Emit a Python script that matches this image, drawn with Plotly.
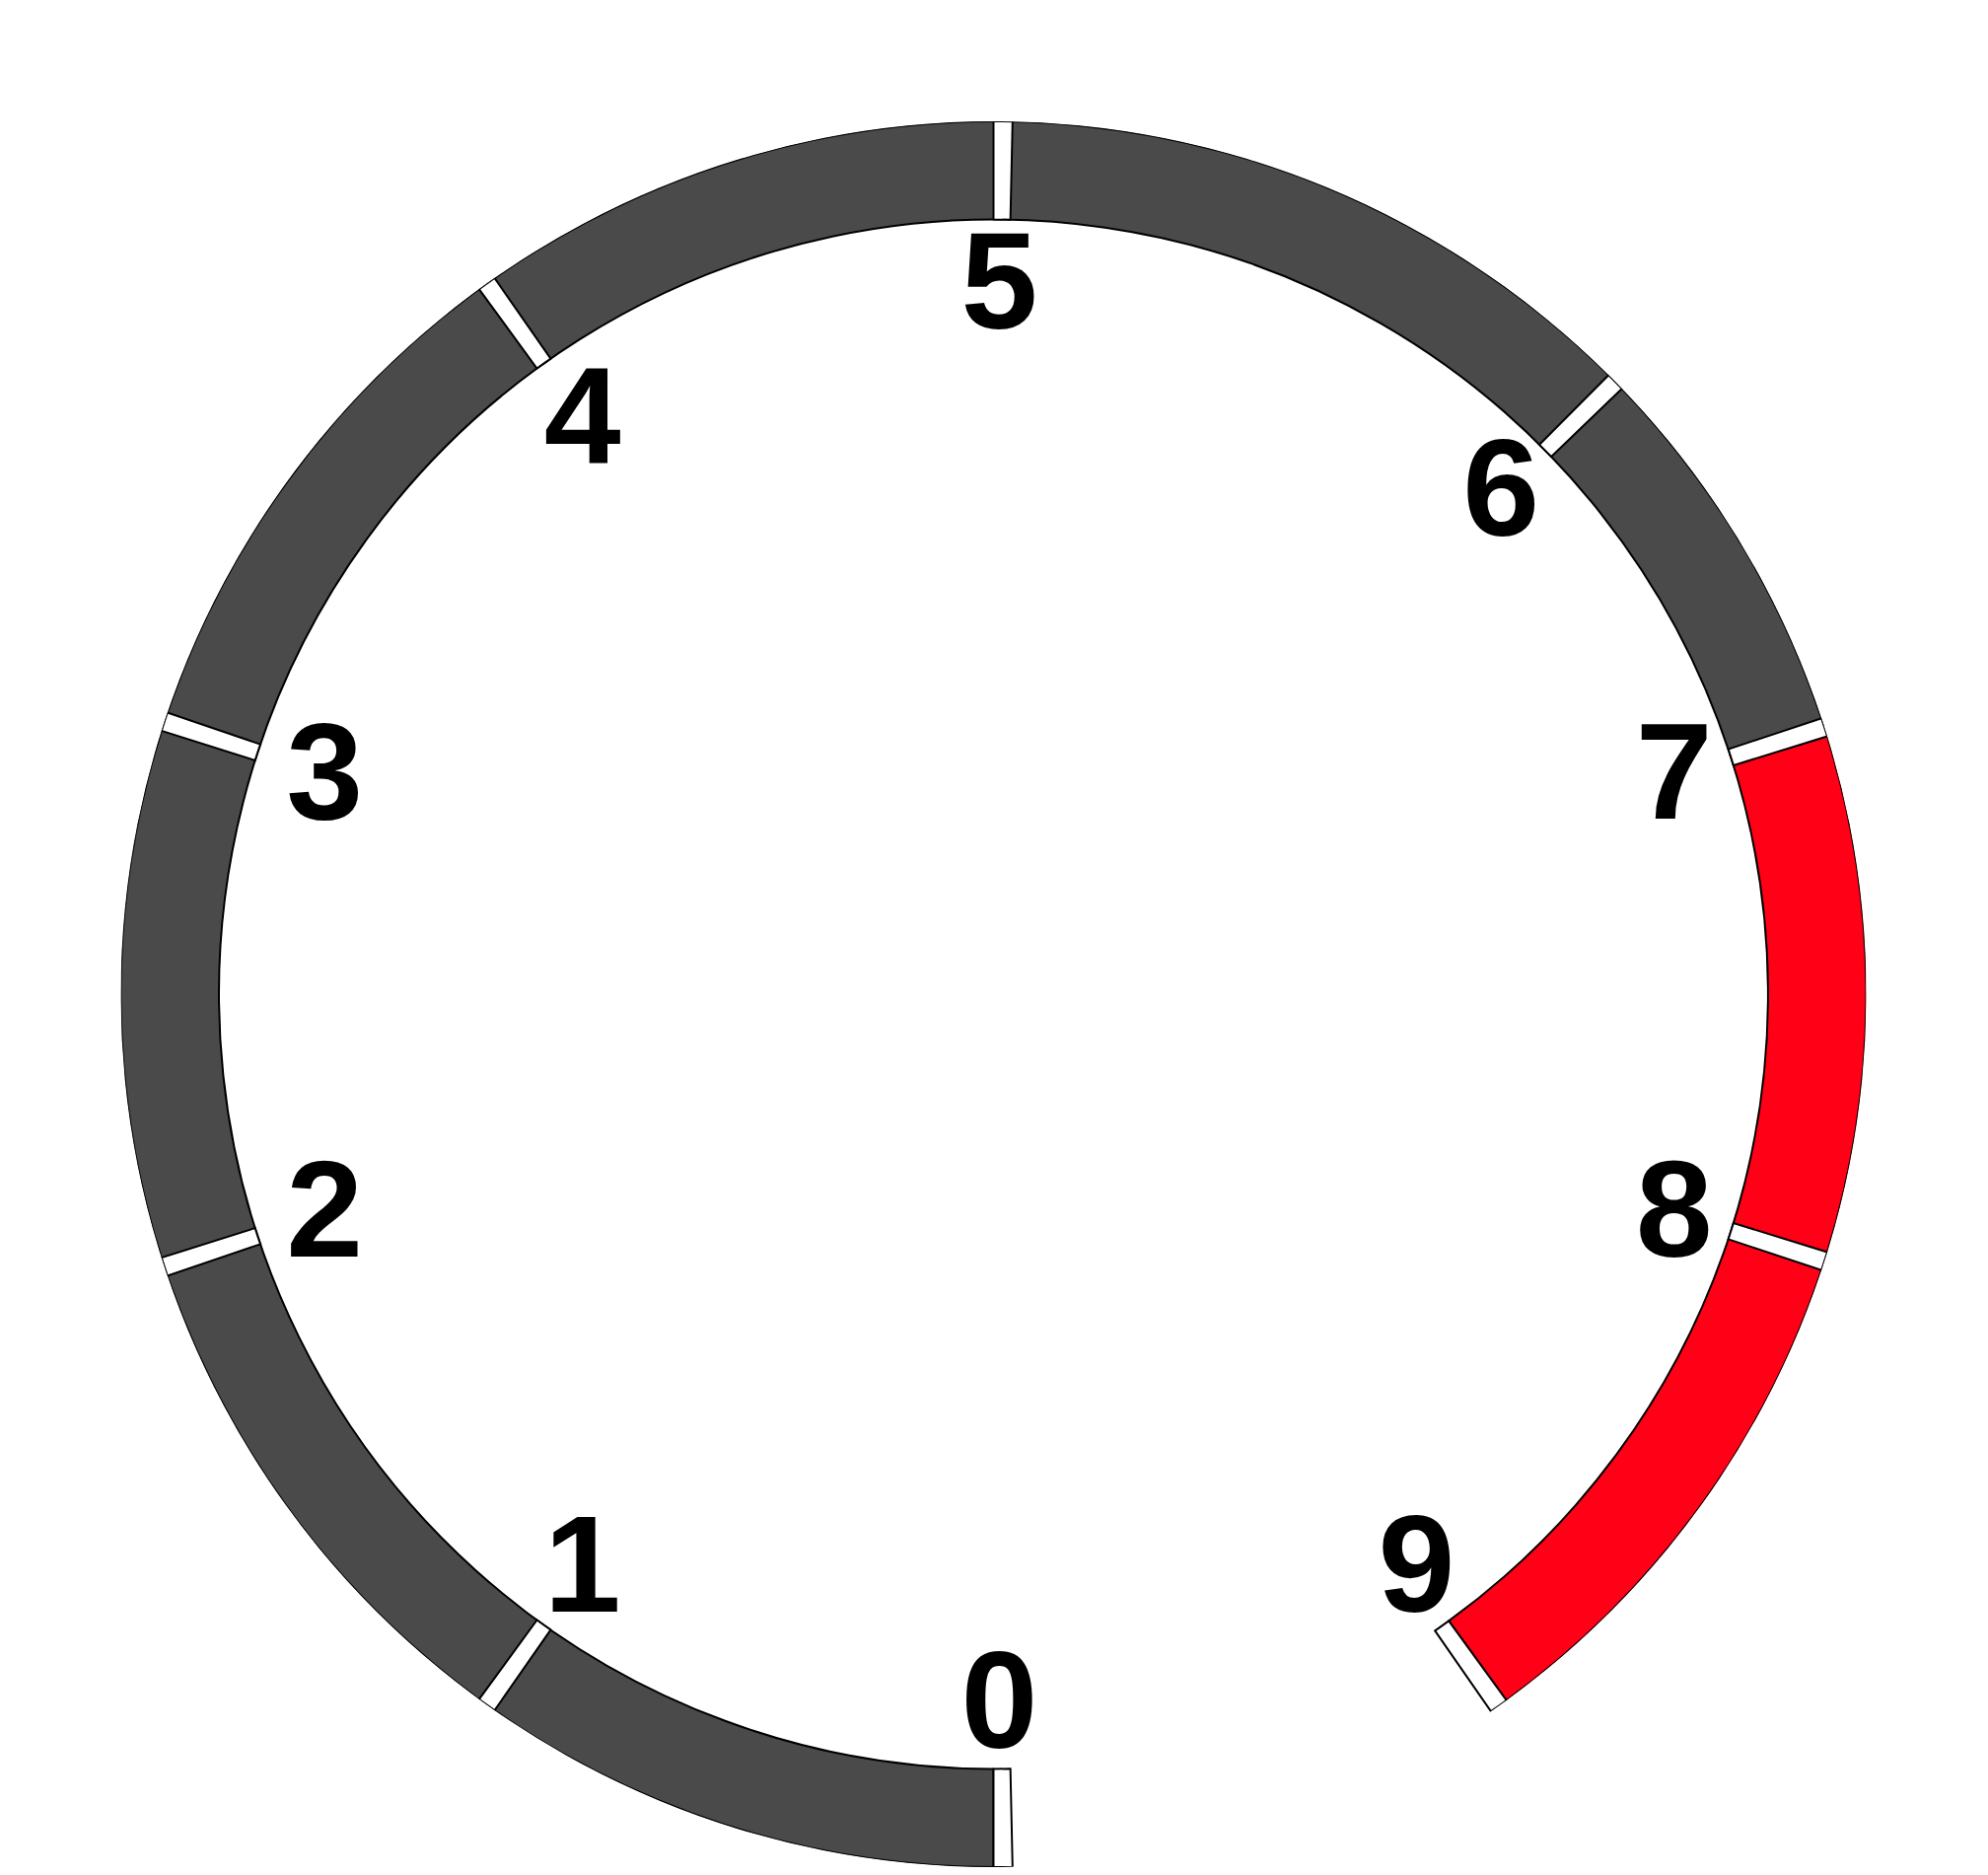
import math
import plotly.graph_objects as go

# ---- data ----
tick_labels = ["0", "1", "2", "3", "4", "5", "6", "7", "8", "9"]
tick_positions = [0, 1, 2, 3, 4, 5, 6.25, 7, 8, 9]   # position along the dial (units of 36 deg)
band_from = [0, 7]
band_to = [7, 9]
band_colors = ["#4a4a4a", "#ff0016"]

# ---- geometry / style constants ----
DEG_PER_UNIT = 36.0
R_MAX = 100.0
R_INNER = 88.75
R_LABEL = 81.3
SEP_WIDTH = 1.25
LABEL_DX = 6.0   # px screen shift of labels to the right
LABEL_DY = 9.0   # px screen shift of labels downward

W, H = 2016, 1901
BODY = 8.0  # default page margin of the html body
cx, cy_top, rad = 1007.5 - BODY, 1008.0 - BODY, 885.0
cy = H - cy_top

fig = go.Figure()

# colour bands
for f, t, c in zip(band_from, band_to, band_colors):
    fig.add_trace(go.Barpolar(
        r=[R_MAX - R_INNER], base=[R_INNER],
        theta=[(f + t) / 2 * DEG_PER_UNIT], width=[(t - f) * DEG_PER_UNIT],
        marker=dict(color=c, line=dict(color="black", width=2)),
        hoverinfo="skip", showlegend=False,
    ))

# separators
sep_theta = []
for i, v in enumerate(tick_positions):
    th = v * DEG_PER_UNIT
    if i == len(tick_positions) - 1:
        shift = SEP_WIDTH / 2
    else:
        shift = -SEP_WIDTH / 2 * math.cos(math.radians(th))
    sep_theta.append(th + shift)

n = len(tick_positions)
fig.add_trace(go.Barpolar(
    r=[R_MAX - R_INNER] * n, base=[R_INNER] * n,
    theta=sep_theta, width=[SEP_WIDTH] * n,
    marker=dict(color="white", line=dict(color="black", width=2)),
    hoverinfo="skip", showlegend=False,
))

# labels (with a small screen shift converted back into polar coordinates)
lab_r, lab_t = [], []
dx_units = LABEL_DX / rad * R_MAX
dy_units = LABEL_DY / rad * R_MAX
for v in tick_positions:
    th = math.radians(v * DEG_PER_UNIT)
    x = -R_LABEL * math.sin(th) + dx_units
    y = R_LABEL * math.cos(th) + dy_units  # screen-down
    lab_r.append(math.hypot(x, y))
    lab_t.append(math.degrees(math.atan2(-x, y)))

fig.add_trace(go.Scatterpolar(
    r=lab_r, theta=lab_t,
    mode="text", text=tick_labels,
    textposition="middle center",
    textfont=dict(family="Liberation Sans, Arial, sans-serif", size=140,
                  color="black", weight="bold"),
    hoverinfo="skip", showlegend=False,
))

fig.update_layout(
    width=W, height=H,
    margin=dict(l=0, r=0, t=0, b=0),
    paper_bgcolor="white",
    showlegend=False,
    polar=dict(
        domain=dict(x=[(cx - rad) / W, (cx + rad) / W],
                    y=[(cy - rad) / H, (cy + rad) / H]),
        bgcolor="white",
        bargap=0,
        radialaxis=dict(range=[0, R_MAX], visible=False, showgrid=False),
        angularaxis=dict(rotation=270, direction="clockwise", visible=False,
                         showgrid=False, thetaunit="degrees"),
    ),
)

fig.write_html("out.html")
